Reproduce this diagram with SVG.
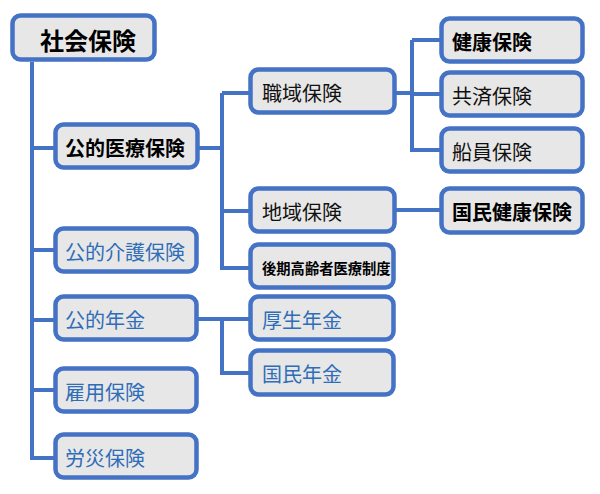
<svg xmlns="http://www.w3.org/2000/svg" width="600" height="494" viewBox="0 0 600 494">
<style>
.box{fill:#E7E7E7;stroke:#4472C4;stroke-width:4.5}
.ln{fill:none;stroke:#4472C4;stroke-width:4}
text{font-family:"Noto Sans CJK JP","Noto Sans",sans-serif;font-size:20px;dominant-baseline:central}
.b{fill:#000;font-weight:bold}
.k{fill:#111}
.u{fill:#2F6DB8}
</style>
<rect width="600" height="494" fill="#fff"/>
<g id="connectors">
<path class="ln" d="M32,62 V458 H55"/>
<path class="ln" d="M32,148 H55 M32,250 H55 M32,320 H55 M32,390 H55"/>
<path class="ln" d="M198,148 H222 M222,93 V268 H250 M222,93 H250 M222,211 H250"/>
<path class="ln" d="M395,93 H412 M412,40 V150 H441 M412,40 H441 M412,94 H441"/>
<path class="ln" d="M395,210 H441"/>
<path class="ln" d="M197,319 H250 M222,319 V373 H250"/>
</g>
<g id="n-root"><rect class="box" x="12.5" y="15.5" width="142" height="44" rx="8"/><text class="b" x="40" y="39" style="font-size:24px">社会保険</text></g>
<g id="n-iryo"><rect class="box" x="55.5" y="124.5" width="142" height="43" rx="8"/><text class="b" x="65" y="147">公的医療保険</text></g>
<g id="n-kaigo"><rect class="box" x="55.5" y="228.5" width="141" height="43" rx="8"/><text class="u" x="65" y="251">公的介護保険</text></g>
<g id="n-nenkin"><rect class="box" x="55.5" y="296.5" width="141" height="43" rx="8"/><text class="u" x="65" y="319">公的年金</text></g>
<g id="n-koyo"><rect class="box" x="55.5" y="368.5" width="141" height="43" rx="8"/><text class="u" x="65" y="391">雇用保険</text></g>
<g id="n-rosai"><rect class="box" x="55.5" y="434.5" width="141" height="43" rx="8"/><text class="u" x="65" y="457">労災保険</text></g>
<g id="n-shokuiki"><rect class="box" x="250.5" y="69.5" width="144" height="43" rx="8"/><text class="k" x="262" y="92">職域保険</text></g>
<g id="n-chiiki"><rect class="box" x="250.5" y="188.5" width="144" height="43" rx="8"/><text class="k" x="262" y="211">地域保険</text></g>
<g id="n-koki"><rect class="box" x="250.5" y="244.5" width="143" height="43" rx="8"/><text class="b" x="262" y="267" style="font-size:14.3px">後期高齢者医療制度</text></g>
<g id="n-kosei"><rect class="box" x="250.5" y="296.5" width="143" height="43" rx="8"/><text class="u" x="262" y="319">厚生年金</text></g>
<g id="n-kokumin-nenkin"><rect class="box" x="250.5" y="350.5" width="143" height="44" rx="8"/><text class="u" x="262" y="373">国民年金</text></g>
<g id="n-kenko"><rect class="box" x="441.5" y="18.5" width="141" height="43" rx="8"/><text class="b" x="452" y="41">健康保険</text></g>
<g id="n-kyosai"><rect class="box" x="441.5" y="72.5" width="141" height="43" rx="8"/><text class="k" x="452" y="95">共済保険</text></g>
<g id="n-senin"><rect class="box" x="441.5" y="128.5" width="141" height="43" rx="8"/><text class="k" x="452" y="151">船員保険</text></g>
<g id="n-kokuho"><rect class="box" x="441.5" y="188.5" width="141" height="44" rx="8"/><text class="b" x="452" y="211">国民健康保険</text></g>
</svg>
